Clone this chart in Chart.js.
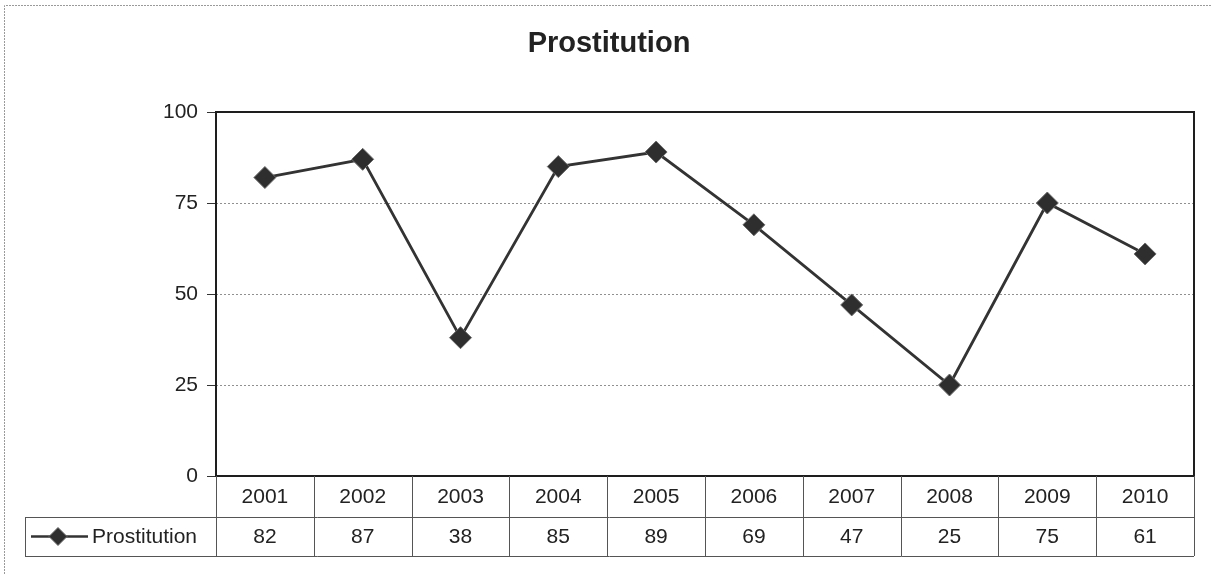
<!DOCTYPE html>
<html>
<head>
<meta charset="utf-8">
<script src="https://cdn.jsdelivr.net/npm/chart.js@4"></script>
<style>
  html, body { margin: 0; padding: 0; background: #ffffff; }
  #wrap { width: 1211px; height: 574px; position: relative; }
</style>
</head>
<body>
<div id="wrap"><canvas id="c" width="1211" height="574"></canvas></div>
<script>
const chartTitle = 'Prostitution';
const seriesName = 'Prostitution';
const years = ['2001','2002','2003','2004','2005','2006','2007','2008','2009','2010'];
const values = [82, 87, 38, 85, 89, 69, 47, 25, 75, 61];
const yTicks = [0, 25, 50, 75, 100];

const FONT = "'Liberation Sans', Arial, sans-serif";
const INK = '#222222';

const frameAndTable = {
  id: 'frameAndTable',
  beforeDatasetsDraw(chart) {
    const { ctx, chartArea: a } = chart;
    ctx.save();
    // outer chart border (top and left visible in reference)
    ctx.strokeStyle = '#9a9a9a';
    ctx.lineWidth = 1;
    ctx.setLineDash([2, 1]);
    ctx.beginPath();
    ctx.moveTo(4.5, 574);
    ctx.lineTo(4.5, 5.5);
    ctx.lineTo(1211, 5.5);
    ctx.stroke();
    ctx.setLineDash([]);
    // title
    ctx.fillStyle = INK;
    ctx.font = 'bold 29px ' + FONT;
    ctx.textAlign = 'center';
    ctx.textBaseline = 'middle';
    ctx.fillText(chartTitle, 609, 44);
    // plot border
    ctx.strokeStyle = '#1e1e1e';
    ctx.lineWidth = 2;
    ctx.strokeRect(a.left, a.top, a.right - a.left, a.bottom - a.top);
    ctx.restore();
  },
  afterDraw(chart) {
    const { ctx, chartArea: a, scales } = chart;
    const x = scales.x;
    const n = years.length;
    const colW = (a.right - a.left) / n;
    const rowTop = a.bottom;
    const rowMid = a.bottom + 41;
    const rowBot = a.bottom + 80;
    const legLeft = 25;
    ctx.save();
    ctx.strokeStyle = '#555555';
    ctx.lineWidth = 1;
    ctx.beginPath();
    ctx.moveTo(legLeft, rowMid + 0.5); ctx.lineTo(a.right, rowMid + 0.5);
    ctx.moveTo(legLeft, rowBot + 0.5); ctx.lineTo(a.right, rowBot + 0.5);
    ctx.moveTo(legLeft + 0.5, rowMid); ctx.lineTo(legLeft + 0.5, rowBot);
    for (let i = 0; i <= n; i++) {
      const xx = Math.round(a.left + i * colW) + 0.5;
      ctx.moveTo(xx, rowTop); ctx.lineTo(xx, rowBot);
    }
    ctx.stroke();

    ctx.fillStyle = INK;
    ctx.font = '21px ' + FONT;
    ctx.textAlign = 'center';
    ctx.textBaseline = 'middle';
    for (let i = 0; i < n; i++) {
      const cx = x.getPixelForValue(i);
      ctx.fillText(years[i], cx, (rowTop + rowMid) / 2 + 1);
      ctx.fillText(String(values[i]), cx, (rowMid + rowBot) / 2 + 1);
    }
    // legend key
    const ly = (rowMid + rowBot) / 2;
    const ds = chart.data.datasets[0];
    ctx.strokeStyle = ds.borderColor;
    ctx.lineWidth = 2.5;
    ctx.beginPath();
    ctx.moveTo(31, ly); ctx.lineTo(88, ly);
    ctx.stroke();
    const r = 9;
    const mx = 58;
    ctx.beginPath();
    ctx.moveTo(mx - r, ly); ctx.lineTo(mx, ly - r); ctx.lineTo(mx + r, ly); ctx.lineTo(mx, ly + r); ctx.closePath();
    ctx.fillStyle = ds.pointBackgroundColor;
    ctx.fill();
    ctx.strokeStyle = ds.pointBorderColor;
    ctx.lineWidth = 1;
    ctx.stroke();
    ctx.fillStyle = INK;
    ctx.textAlign = 'left';
    ctx.font = '21px ' + FONT;
    ctx.fillText(seriesName, 92, ly + 1);
    ctx.restore();
  }
};

new Chart(document.getElementById('c'), {
  type: 'line',
  data: {
    labels: years,
    datasets: [{
      label: seriesName,
      data: values,
      borderColor: '#333333',
      borderWidth: 2.8,
      tension: 0,
      pointStyle: 'rectRot',
      pointRadius: 11,
      pointHoverRadius: 11,
      pointBackgroundColor: '#2e2e2e',
      pointBorderColor: '#6a6a6a',
      pointBorderWidth: 1
    }]
  },
  options: {
    responsive: false,
    animation: false,
    devicePixelRatio: 1,
    layout: { padding: { left: 0, right: 17, top: 112, bottom: 98 } },
    plugins: {
      legend: { display: false },
      tooltip: { enabled: false },
      title: { display: false }
    },
    scales: {
      x: {
        type: 'category',
        display: false,
        offset: true
      },
      y: {
        min: 0,
        max: 100,
        afterBuildTicks(scale) { scale.ticks = yTicks.map(v => ({ value: v })); },
        afterFit(scale) { scale.width = 216; },
        ticks: {
          color: INK,
          font: { family: FONT, size: 21 },
          padding: 9
        },
        grid: {
          color: '#909090',
          lineWidth: 1,
          drawTicks: true,
          tickLength: 9,
          tickColor: '#333333',
          tickBorderDash: []
        },
        border: { display: false, dash: [2, 2] }
      }
    }
  },
  plugins: [frameAndTable]
});
</script>
</body>
</html>
